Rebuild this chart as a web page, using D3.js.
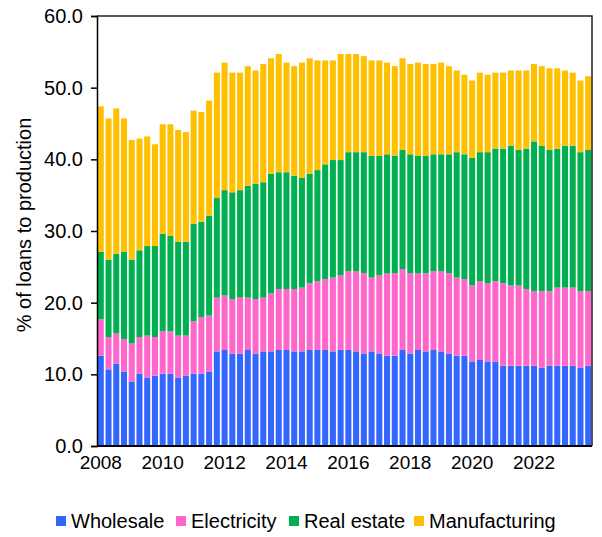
<!DOCTYPE html>
<html>
<head>
<meta charset="utf-8">
<script src="https://cdn.jsdelivr.net/npm/d3@7"></script>
<style>
	body { margin: 0; background: #fff; }
	text { font-family: "Liberation Sans", Arial, sans-serif; fill: #000; }
</style>
</head>
<body>
<svg id="chart"></svg>
<script>
'use strict';

// quarters 2008 Q1 .. 2023 Q4
var years = d3.range(2008, 2024);
var quarters = [];
years.forEach(function (y) {
	for (var q = 1; q <= 4; q++) quarters.push(y + ' Q' + q);
});

var wholesale = [12.6, 10.7, 11.5, 10.4, 9.0, 10.1, 9.5, 9.8, 10.1, 10.1, 9.5, 9.8, 10.1, 10.1, 10.4, 13.2,
	13.4, 12.9, 12.9, 13.4, 12.9, 13.2, 13.2, 13.4, 13.4, 13.2, 13.2, 13.4, 13.4, 13.4, 13.2, 13.4,
	13.4, 13.2, 12.9, 13.2, 12.9, 12.6, 12.6, 13.4, 12.9, 13.4, 13.2, 13.4, 13.2, 12.9, 12.6, 12.6,
	11.8, 12.0, 11.8, 11.8, 11.2, 11.2, 11.2, 11.2, 11.2, 10.9, 11.2, 11.2, 11.2, 11.2, 10.9, 11.2];

var electricity = [5.1, 4.5, 4.2, 4.5, 5.3, 5.1, 5.9, 5.4, 5.9, 5.9, 5.9, 5.6, 7.3, 7.9, 7.8, 7.5,
	7.6, 7.6, 7.8, 7.3, 7.6, 7.5, 8.1, 8.5, 8.5, 8.7, 8.9, 9.3, 9.6, 9.9, 10.3, 10.4,
	11.0, 11.2, 11.2, 10.3, 10.9, 11.5, 11.5, 11.3, 11.2, 10.7, 10.9, 11.0, 11.2, 11.2, 10.9, 10.7,
	10.6, 11.0, 10.9, 11.2, 11.5, 11.2, 11.2, 10.7, 10.4, 10.7, 10.4, 10.9, 10.9, 10.9, 10.7, 10.4];

var realEstate = [9.4, 10.8, 11.1, 12.2, 11.7, 12.1, 12.5, 12.7, 13.6, 13.3, 13.1, 13.1, 13.6, 13.3, 13.9, 13.9,
	14.7, 14.9, 15.0, 15.6, 16.1, 16.1, 16.7, 16.3, 16.3, 15.8, 15.3, 15.3, 15.5, 16.0, 16.4, 16.1,
	16.6, 16.6, 16.9, 17.0, 16.7, 16.6, 16.4, 16.6, 16.6, 16.4, 16.4, 16.3, 16.3, 16.6, 17.5, 17.4,
	17.8, 18.0, 18.3, 18.5, 18.8, 19.5, 18.9, 19.6, 20.9, 20.3, 19.7, 19.4, 19.8, 19.8, 19.4, 19.7];

var manufacturing = [20.3, 19.7, 20.3, 18.6, 16.7, 15.6, 15.3, 14.2, 15.3, 15.6, 15.6, 15.3, 15.8, 15.3, 16.1, 17.5,
	17.8, 16.7, 16.4, 16.7, 15.8, 16.5, 16.1, 16.5, 15.3, 15.3, 16.1, 16.1, 15.3, 14.5, 13.9, 14.8,
	13.7, 13.7, 13.4, 13.3, 13.3, 12.8, 12.5, 12.8, 12.6, 13.0, 12.8, 12.6, 12.8, 12.3, 11.4, 11.1,
	10.8, 11.1, 10.8, 10.6, 10.6, 10.5, 11.1, 10.9, 10.8, 11.1, 11.4, 11.2, 10.5, 10.2, 10.0, 10.3];

var seriesNames = ['Wholesale', 'Electricity', 'Real estate', 'Manufacturing'];
var seriesColors = ['#3366ff', '#ff66cc', '#00b050', '#ffc000'];
var yTicks = [0, 10, 20, 30, 40, 50, 60];

var WIDTH = 602,
	HEIGHT = 537;

var margin = { top: 16, right: 10, bottom: 91, left: 97 };

var svg = d3.select('#chart')
	.attr('width', WIDTH)
	.attr('height', HEIGHT);

var rows = quarters.map(function (q, i) {
	return {
		q: q,
		'Wholesale': wholesale[i],
		'Electricity': electricity[i],
		'Real estate': realEstate[i],
		'Manufacturing': manufacturing[i]
	};
});

var stacked = d3.stack().keys(seriesNames)(rows);

var x = d3.scaleBand()
	.domain(quarters)
	.range([margin.left, WIDTH - margin.right])
	.paddingInner(0.22)
	.paddingOuter(0.1);

var y = d3.scaleLinear()
	.domain([0, 60])
	.range([HEIGHT - margin.bottom, margin.top]);

var color = d3.scaleOrdinal().domain(seriesNames).range(seriesColors);

// bars
svg.append('g')
	.selectAll('g')
	.data(stacked)
	.enter()
	.append('g')
	.style('fill', function (d) { return color(d.key); })
	.selectAll('rect')
	.data(function (d) { return d; })
	.enter()
	.append('rect')
	.attr('x', function (d) { return x(d.data.q); })
	.attr('width', x.bandwidth())
	.attr('y', function (d) { return y(d[1]); })
	.attr('height', function (d) { return y(d[0]) - y(d[1]); });

// plot frame (top and right)
svg.append('path')
	.attr('d', 'M' + margin.left + ',' + y(60) + 'H' + (WIDTH - margin.right) + 'V' + y(0))
	.style('fill', 'none')
	.style('stroke', '#222')
	.style('stroke-width', 1.5);

// y axis
var yAxis = svg.append('g')
	.attr('transform', 'translate(' + margin.left + ',0)')
	.call(d3.axisLeft(y).tickValues(yTicks).tickSize(6).tickPadding(8)
		.tickFormat(d3.format('.1f')));
yAxis.selectAll('path, line').style('stroke', '#000').style('stroke-width', 1.5);
yAxis.selectAll('text').style('font-size', '20px').style('font-family', '"Liberation Sans", Arial, sans-serif');

// x axis, label every 8th quarter
var xAxis = svg.append('g')
	.attr('transform', 'translate(0,' + y(0) + ')')
	.call(d3.axisBottom(x).tickSize(0).tickPadding(10)
		.tickValues(quarters.filter(function (q, i) { return i % 8 === 0; }))
		.tickFormat(function (q) { return q.slice(0, 4); }));
xAxis.select('.domain')
	.attr('d', 'M' + margin.left + ',0H' + (WIDTH - margin.right))
	.style('stroke', '#000').style('stroke-width', 2);
xAxis.selectAll('text').style('font-size', '19px').style('font-family', '"Liberation Sans", Arial, sans-serif');

// y axis title
svg.append('text')
	.attr('transform', 'translate(31,' + ((y(0) + y(60)) / 2 - 6) + ') rotate(-90)')
	.style('text-anchor', 'middle')
	.style('font-size', '20px')
	.text('% of loans to production');

// legend
var legendX = [56, 176, 289, 414];
var legend = svg.append('g')
	.selectAll('g')
	.data(seriesNames)
	.enter()
	.append('g')
	.attr('transform', function (d, i) { return 'translate(' + legendX[i] + ',521)'; });

legend.append('rect')
	.attr('x', 0)
	.attr('y', -5)
	.attr('width', 10)
	.attr('height', 10)
	.style('fill', function (d) { return color(d); });

legend.append('text')
	.attr('x', 15)
	.attr('y', 7)
	.style('font-size', '20px')
	.text(function (d) { return d; });
</script>
</body>
</html>
